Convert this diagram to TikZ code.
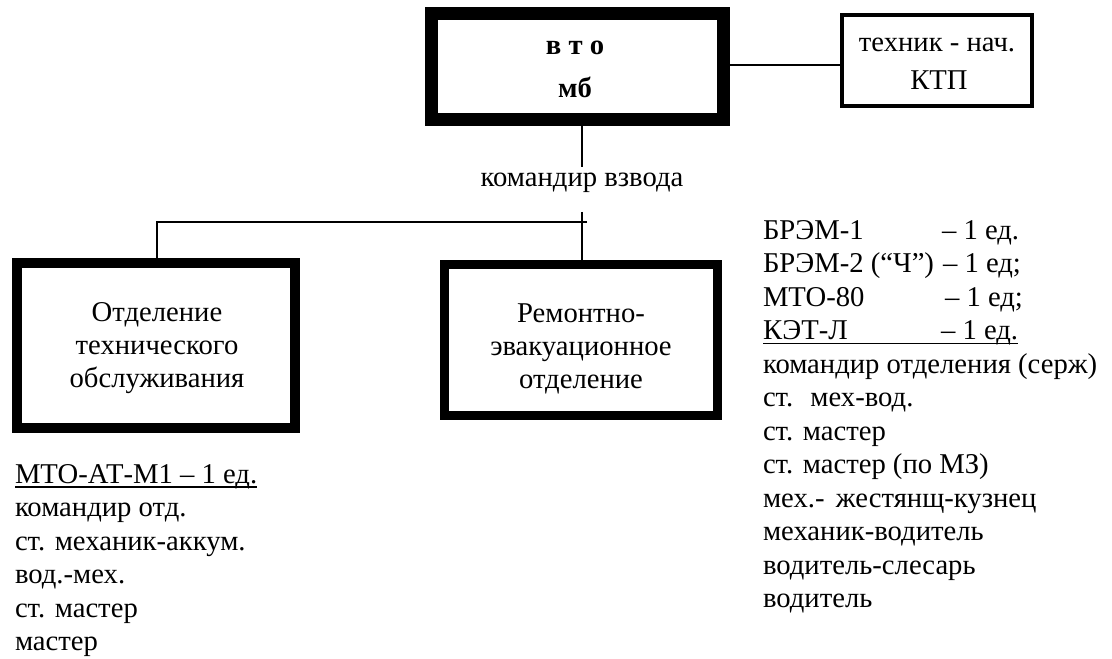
\documentclass[tikz,border=0pt]{standalone}
\usepackage{fontspec}
\setmainfont{Liberation Serif}
\tikzset{
  txt/.style={inner sep=0pt, outer sep=0pt, font=\fontsize{21.5}{25}\selectfont},
  boldtxt/.style={txt, font=\fontsize{21.5}{25}\selectfont\bfseries},
  conn/.style={line width=2.2pt},
  uline/.style={line width=1.3pt},
  thickbox/.style={draw, rectangle, inner sep=0pt, outer sep=0pt, fill=white},
}
\begin{document}
\begin{tikzpicture}[x=0.75pt, y=-0.75pt]
\useasboundingbox[fill=white] (0,0) rectangle (1112,659);

% boxes
\node[thickbox, line width=9.75pt, minimum width=292*0.75pt, minimum height=106*0.75pt] (main) at (577.5,66.5) {};
\node[thickbox, line width=3pt, minimum width=190*0.75pt, minimum height=91*0.75pt] (ktp) at (937,60.5) {};
\node[thickbox, line width=7.5pt, minimum width=278*0.75pt, minimum height=165*0.75pt] (lbox) at (156,345.5) {};
\node[thickbox, line width=7pt, minimum width=273*0.75pt, minimum height=151*0.75pt] (rbox) at (581,340) {};

% connector coordinates
\coordinate (t1) at (582,167);
\coordinate (t2) at (582,212);
\coordinate (hR) at (587,222);
\coordinate (hL) at (157,222);

% connectors
\draw[conn] ([yshift=-3.4pt]ktp.west) -- ([yshift=-3.4pt]ktp.west -| main.east);
\draw[conn] (main.south -| t1) -- (t1);
\draw[conn] (t2) -- (t2 |- rbox.north);
\draw[conn] (hR) -- (hL) -- (hL |- lbox.north);

% texts in boxes
\node[boldtxt, anchor=base] (vto) at (575,55) {в т о};
\node[boldtxt, anchor=base] (mb) at (575,98) {мб};
\node[txt, anchor=base] (ktp1) at (937,52) {техник - нач.};
\node[txt, anchor=base] (ktp2) at (939,90) {КТП};
\node[txt, anchor=base] (cmd) at (582,187) {командир взвода};

\node[txt, anchor=base] (lb1) at (157,321) {Отделение};
\node[txt, anchor=base] (lb2) at (157,354) {технического};
\node[txt, anchor=base] (lb3) at (157,387) {обслуживания};

\node[txt, anchor=base] (rb1) at (581,322) {Ремонтно-};
\node[txt, anchor=base] (rb2) at (581,355) {эвакуационное};
\node[txt, anchor=base] (rb3) at (581,388) {отделение};

% left list
\node[txt, anchor=base west] (l1) at (15,483) {МТО-АТ-М1 – 1 ед.};
\node[txt, anchor=base west] (l2) at (15,516.5) {командир отд.};
\node[txt, anchor=base west] (l3) at (15,550) {ст. механик-аккум.};
\node[txt, anchor=base west] (l4) at (15,583.5) {вод.-мех.};
\node[txt, anchor=base west] (l5) at (15,617) {ст. мастер};
\node[txt, anchor=base west] (l6) at (15,650.5) {мастер};
\draw[uline] ([yshift=-3pt]l1.base west) -- ([yshift=-3pt]l1.base east);

% right list
\node[txt, anchor=base west] (r1) at (763,239) {БРЭМ-1};
\node[txt, anchor=base west] (r1d) at (942,239) {– 1 ед.};
\node[txt, anchor=base west] (r2) at (763,272.5) {БРЭМ-2 (“Ч”)};
\node[txt, anchor=base west] (r2d) at (943,272.5) {– 1 ед;};
\node[txt, anchor=base west] (r3) at (763,306) {МТО-80};
\node[txt, anchor=base west] (r3d) at (945,306) {– 1 ед;};
\node[txt, anchor=base west] (r4) at (763,339.5) {КЭТ-Л};
\node[txt, anchor=base west] (r4d) at (941,339.5) {– 1 ед.};
\draw[uline] ([yshift=-3pt]r4.base west) -- ([yshift=-3pt]r4d.base east);
\node[txt, anchor=base west] (r5) at (763,373) {командир отделения (серж)};
\node[txt, anchor=base west] (r6) at (763,406.5) {ст.\hspace{0.6em}мех-вод.};
\node[txt, anchor=base west] (r7) at (763,440) {ст. мастер};
\node[txt, anchor=base west] (r8) at (763,473.5) {ст. мастер (по МЗ)};
\node[txt, anchor=base west] (r9) at (763,507) {мех.-\hspace{0.4em}жестянщ-кузнец};
\node[txt, anchor=base west] (r10) at (763,540.5) {механик-водитель};
\node[txt, anchor=base west] (r11) at (763,574) {водитель-слесарь};
\node[txt, anchor=base west] (r12) at (763,607.5) {водитель};
\end{tikzpicture}
\end{document}
